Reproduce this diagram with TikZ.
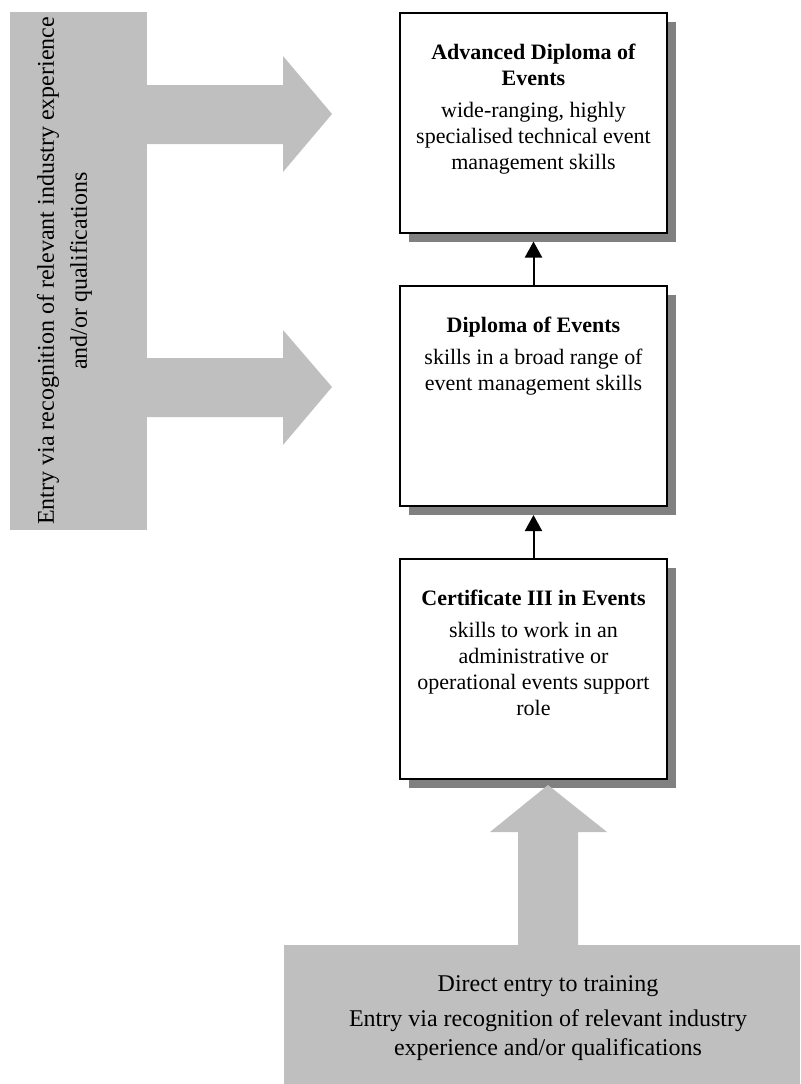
\documentclass[tikz,border=0pt]{standalone}
\usepackage{fontspec}
\setmainfont{Liberation Serif}
\usetikzlibrary{positioning,arrows.meta,shadows}

\begin{document}
\begin{tikzpicture}[x=0.5pt,y=-0.5pt,
    stage/.style={draw,line width=1pt,fill=white,minimum width=133.5pt,minimum height=110pt,inner sep=0pt,
      drop shadow={shadow xshift=4.5pt,shadow yshift=-4.5pt,fill=black!50,opacity=1}},
    stagetext/.style={align=center,inner sep=0pt,font=\fontsize{11}{13}\selectfont},
    entry/.style={fill=black!25,inner sep=0pt},
    entrytext/.style={align=center,inner sep=0pt},
    bigarrow/.style={fill=black!25},
    up/.style={line width=1pt,-{Triangle[width=8.5pt,length=8pt]},shorten >=4pt}]
  \useasboundingbox (0,0) rectangle (800,1084);
  \node[entry,rotate=90,minimum width=259pt,minimum height=68.5pt] (recog) at (78.5,271) {};
  \fill[bigarrow] (140,85) -- (283,85) -- (283,56) -- (332,114) -- (283,172) -- (283,144) -- (140,144) -- cycle;
  \fill[bigarrow] (140,358) -- (283,358) -- (283,330) -- (332,387) -- (283,445) -- (283,417) -- (140,417) -- cycle;
  \node[entrytext,rotate=90,font=\fontsize{12}{16.5}\selectfont] (recogtext) at (64.5,271)
    {Entry via recognition of relevant industry experience\\and/or qualifications};

  \node[stage] (adv) at (533.5,122.5) {};
  \node[stage] (dip) at (533.5,396) {};
  \node[stage] (cert) at (533.5,669) {};
  \node[stagetext,below=16pt of adv.north] (advtext)
    {\textbf{Advanced Diploma of}\\\textbf{Events}\\[3pt]wide-ranging, highly\\specialised technical event\\management skills};
  \node[stagetext,below=16pt of dip.north] (diptext)
    {\textbf{Diploma of Events}\\[3pt]skills in a broad range of\\event management skills};
  \node[stagetext,below=16pt of cert.north] (certtext)
    {\textbf{Certificate III in Events}\\[3pt]skills to work in an\\administrative or\\operational events support\\role};
  \draw[up] (dip.north) -- (adv.south);
  \draw[up] (cert.north) -- (dip.south);

  \node[entry,minimum width=258pt,minimum height=69.5pt] (direct) at (542,1014.5) {};
  \fill[bigarrow] (518,950) -- (518,832) -- (490,832) -- (548,785) -- (607,832) -- (578,832) -- (578,950) -- cycle;
  \node[entrytext,font=\fontsize{12}{14.5}\selectfont] (directtext) at (548,1018.5)
    {Direct entry to training\\[3pt]Entry via recognition of relevant industry\\experience and/or qualifications};
\end{tikzpicture}
\end{document}
